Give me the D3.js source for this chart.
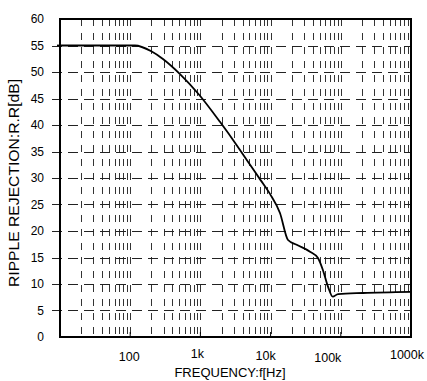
<!DOCTYPE html>
<html>
<head>
<meta charset="utf-8">
<script src="https://cdn.jsdelivr.net/npm/d3@7/dist/d3.min.js"></script>
<style>
  html, body { margin: 0; padding: 0; background: #fff; }
  svg { display: block; }
  text { font-family: "Liberation Sans", Arial, sans-serif; fill: #000; }
</style>
</head>
<body>
<svg id="chart" width="427" height="381"></svg>
<script>
// ---- data ----
const freqHz = [10, 117, 200, 296, 512, 933, 1900, 3290, 5100, 7200, 9800, 13600, 17700, 23500, 36400, 47300, 55700, 65700, 76700, 91300, 207000, 1000000];
const rippleDb = [55, 55, 53.9, 52.4, 49.6, 45.9, 40.6, 36.2, 32.5, 29.6, 27.0, 23.4, 18.3, 17.4, 16.1, 14.9, 12.6, 9.5, 7.6, 8.1, 8.3, 8.5];
const xTickValues = [100, 1000, 10000, 100000, 1000000];
const xTickLabels = ["100", "1k", "10k", "100k", "1000k"];
const yTickValues = [0, 5, 10, 15, 20, 25, 30, 35, 40, 45, 50, 55, 60];
const xTitle = "FREQUENCY:f[Hz]";
const yTitle = "RIPPLE REJECTION:R.R[dB]";

// ---- layout ----
const L = 60, R = 411, T = 19, B = 337;
const xLabelDx = [-1, -3, -5, -13, -4];
const xLabelY = [357, 354, 356, 358, 355];

const svg = d3.select("#chart");
const x = d3.scaleLog().domain([10, 1e6]).range([L, R]);
const y = d3.scaleLinear().domain([0, 60]).range([B, T]);

// vertical minor grid (dashed)
const minor = [];
for (let d = 10; d < 1e6; d *= 10) {
  for (let m = 2; m <= 10; m++) {
    const v = d * m;
    if (v < 1e6) minor.push(v);
  }
}
svg.append("g").selectAll("line").data(minor).join("line")
  .attr("x1", d => Math.round(x(d)) + 0.5).attr("x2", d => Math.round(x(d)) + 0.5)
  .attr("y1", T).attr("y2", B)
  .attr("stroke", "#333").attr("stroke-width", 1)
  .attr("stroke-dasharray", "7,7");

// horizontal grid (dashed, extending out as ticks)
const hLevels = yTickValues.filter(v => v > 0 && v < 60);
svg.append("g").selectAll("line").data(hLevels).join("line")
  .attr("x1", L - 8).attr("x2", R)
  .attr("y1", d => Math.round(y(d)) + 0.5).attr("y2", d => Math.round(y(d)) + 0.5)
  .attr("stroke", "#222").attr("stroke-width", 1)
  .attr("stroke-dasharray", "10,6");

// decade ticks on bottom axis
svg.append("g").selectAll("line").data(xTickValues.slice(0, -1)).join("line")
  .attr("x1", d => x(d)).attr("x2", d => x(d))
  .attr("y1", B).attr("y2", B - 5)
  .attr("stroke", "#000").attr("stroke-width", 1);

// frame
svg.append("rect")
  .attr("x", L).attr("y", T).attr("width", R - L).attr("height", B - T)
  .attr("fill", "none").attr("stroke", "#000").attr("stroke-width", 2);

// curve
const pts = freqHz.map((f, i) => [f, rippleDb[i]]);
const line = d3.line().x(d => x(d[0])).y(d => y(d[1])).curve(d3.curveMonotoneX);
svg.append("path").datum(pts)
  .attr("d", line)
  .attr("fill", "none").attr("stroke", "#000").attr("stroke-width", 1.8)
  .attr("stroke-linejoin", "round");
// small extension left of axis at 55
svg.append("line").attr("x1", L - 3).attr("x2", L).attr("y1", y(rippleDb[0])).attr("y2", y(rippleDb[0]))
  .attr("stroke", "#000").attr("stroke-width", 1.8);

// y tick labels
svg.append("g").selectAll("text").data(yTickValues).join("text")
  .attr("x", 44).attr("y", d => y(d))
  .attr("dy", "0.35em")
  .attr("text-anchor", "end")
  .attr("font-size", 12)
  .text(d => d);

// x tick labels
svg.append("g").selectAll("text").data(xTickValues).join("text")
  .attr("x", (d, i) => x(d) + xLabelDx[i])
  .attr("y", (d, i) => xLabelY[i])
  .attr("dy", "0.35em")
  .attr("text-anchor", "middle")
  .attr("font-size", 12.5)
  .text((d, i) => xTickLabels[i]);

// axis titles
svg.append("text")
  .attr("x", 230).attr("y", 372).attr("dy", "0.35em")
  .attr("text-anchor", "middle").attr("font-size", 13)
  .text(xTitle);

svg.append("text")
  .attr("transform", "translate(14,183) rotate(-90)")
  .attr("dy", "0.35em")
  .attr("text-anchor", "middle").attr("font-size", 14.5)
  .attr("textLength", 208).attr("lengthAdjust", "spacingAndGlyphs")
  .text(yTitle);
</script>
</body>
</html>
